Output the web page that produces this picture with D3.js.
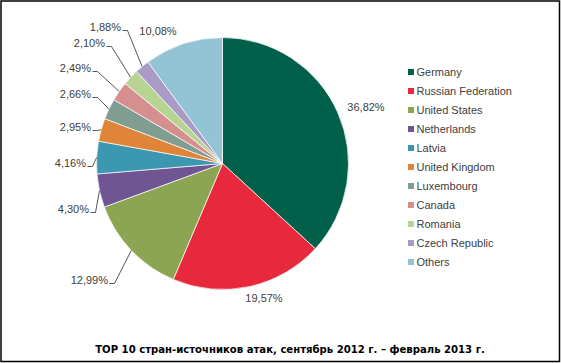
<!DOCTYPE html>
<html>
<head>
<meta charset="utf-8">
<script src="https://cdn.jsdelivr.net/npm/d3@7"></script>
<style>
  body { margin: 0; background: #fff; }
  text { font-family: "Liberation Sans", Arial, sans-serif; }
  text.title { font-family: "DejaVu Sans", Verdana, sans-serif; font-weight: bold; }
</style>
</head>
<body>
<div class="chart"></div>
<script>
var svgWidth = 561;
var svgHeight = 363;

// data
var countries = ["Germany", "Russian Federation", "United States", "Netherlands", "Latvia",
    "United Kingdom", "Luxembourg", "Canada", "Romania", "Czech Republic", "Others"];
var shares = [36.82, 19.57, 12.99, 4.30, 4.16, 2.95, 2.66, 2.49, 2.10, 1.88, 10.08];
var colors = ["#00604a", "#e8283c", "#8ba552", "#6f5693", "#3c97b0",
    "#e0843a", "#7f9d91", "#d68f8f", "#b8d492", "#a99ac6", "#93c4d6"];
var title = "TOP 10 стран-источников атак, сентябрь 2012 г. – февраль 2013 г.";

// label layout: [x, baseline y, anchor, leader?]
var labelAt = [
    [366, 111, "middle", false],
    [264, 302, "middle", false],
    [108, 284, "end", true],
    [89, 213, "end", true],
    [86, 167, "end", true],
    [91, 131, "end", true],
    [91, 98, "end", true],
    [91, 72, "end", true],
    [105, 47, "end", true],
    [121, 31, "end", true],
    [158, 35, "middle", false]
];

var cx = 222.5, cy = 163.5, radius = 126;

var svg = d3.select(".chart")
    .append("svg")
    .attr("width", svgWidth)
    .attr("height", svgHeight);

// frame
svg.append("rect")
    .attr("x", 1).attr("y", 1)
    .attr("width", svgWidth - 2.5).attr("height", svgHeight - 2.5)
    .attr("fill", "#fff")
    .attr("stroke", "#000")
    .attr("stroke-width", 1.5);

var pieGroup = svg.append("g")
    .attr("transform", `translate(${cx}, ${cy})`);

var pie = d3.pie().sort(null).value(d => d);
var arcs = pie(shares);
var arc = d3.arc().innerRadius(0).outerRadius(radius);

pieGroup.selectAll("path")
    .data(arcs)
    .join("path")
    .attr("d", arc)
    .attr("fill", (d, i) => colors[i])
    .attr("stroke", "#fff")
    .attr("stroke-width", 0.7);

var fmt = v => v.toFixed(2).replace(".", ",") + "%";

// leader lines
arcs.forEach(function(d, i) {
    var lp = labelAt[i];
    if (!lp[3]) return;
    var a = (d.startAngle + d.endAngle) / 2;
    var ex = cx + radius * Math.sin(a);
    var ey = cy - radius * Math.cos(a);
    var y0 = lp[1] - 0.5;
    svg.append("polyline")
        .attr("points", `${lp[0] + 1.5},${y0} ${lp[0] + 6.5},${y0} ${ex},${ey}`)
        .attr("fill", "none")
        .attr("stroke", "#555")
        .attr("stroke-width", 1);
});

svg.selectAll(".pct")
    .data(arcs)
    .join("text")
    .attr("class", "pct")
    .attr("x", (d, i) => labelAt[i][0])
    .attr("y", (d, i) => labelAt[i][1])
    .attr("text-anchor", (d, i) => labelAt[i][2])
    .attr("font-size", "11px")
    .attr("fill", "#404040")
    .text(d => fmt(d.data));

// legend
var legend = svg.append("g").attr("transform", "translate(408, 72)");
var rows = legend.selectAll("g")
    .data(countries)
    .join("g")
    .attr("transform", (d, i) => `translate(0, ${i * 19})`);
rows.append("rect")
    .attr("x", 0).attr("y", -3)
    .attr("width", 6).attr("height", 6)
    .attr("fill", (d, i) => colors[i]);
rows.append("text")
    .attr("x", 8.5)
    .attr("y", 4)
    .attr("font-size", "11px")
    .attr("fill", "#404040")
    .text(d => d);

// title, sized to span the same width as the original
var titleText = svg.append("text")
    .attr("class", "title")
    .attr("x", 290)
    .attr("y", 353)
    .attr("text-anchor", "middle")
    .attr("font-size", "10px")
    .attr("fill", "#000")
    .text(title);
var tw = titleText.node().getComputedTextLength();
titleText.attr("font-size", (10 * 390 / tw).toFixed(2) + "px");
</script>
</body>
</html>
